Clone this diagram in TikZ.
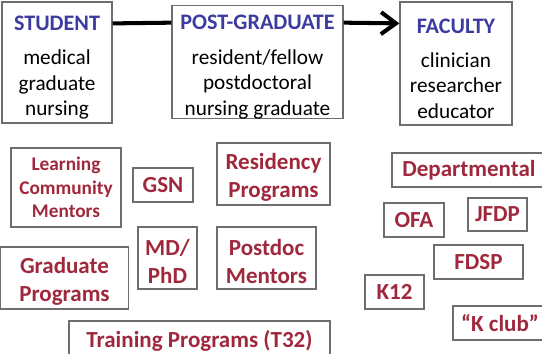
\documentclass[tikz,border=0pt]{standalone}
\usepackage{fontspec}
\setmainfont{Carlito}
\usepackage{xcolor}
\usetikzlibrary{arrows.meta, positioning}

\definecolor{titleblue}{RGB}{60,60,160}
\definecolor{progred}{RGB}{160,40,60}
\definecolor{boxgray}{RGB}{110,110,110}

\tikzset{
  rolebox/.style={draw=boxgray, line width=0.7pt, inner sep=0pt, align=center,
    font=\fontsize{12.1}{14.5}\selectfont},
  progbox/.style={draw=boxgray, line width=0.7pt, inner sep=0pt, align=center,
    text=progred, font=\fontsize{13.1}{15.9}\selectfont\bfseries},
  link/.style={line width=2.3pt}
}
\newcommand{\roletitle}[1]{\rule{0pt}{14pt}\textcolor{titleblue}{\fontsize{12.6}{14.5}\selectfont\bfseries #1}}
\newcommand{\lowerline}{\rule{0pt}{12.8pt}}

\begin{document}
\begin{tikzpicture}[x=0.02cm, y=-0.02cm]
        \useasboundingbox (0,0) rectangle (542,353);

        % Career stages
        \node[rolebox, minimum width=2.2cm, minimum height=2.42cm] (student) at (57,62.5)
          {\roletitle{STUDENT}\\[5pt] medical\\ graduate\\ nursing};
        \node[rolebox, minimum width=3.42cm, minimum height=2.24cm] (postgrad) at (257.5,62)
          {\roletitle{POST-GRADUATE}\\[5pt] resident/fellow\\ postdoctoral\\ nursing graduate};
        \node[rolebox, minimum width=2.24cm, minimum height=2.46cm] (faculty) at (456,63.5)
          {\roletitle{FACULTY}\\[5pt] clinician\\ researcher\\ educator};

        % Stage connectors
        \draw[link] ([yshift=-0.44cm]student.north east) -- ([yshift=-0.36cm]postgrad.north west);
        \draw[link, -{Straight Barb[length=0.3cm, width=0.44cm]}]
          ([yshift=-0.36cm]postgrad.north east) -- ([yshift=-0.44cm]faculty.north west);

        % Student programs
        \node[progbox, minimum width=2.2cm, minimum height=1.58cm,
          font=\fontsize{11}{13.3}\selectfont\bfseries] (lcm) at (66,187.5)
          {Learning\\ Community\\ Mentors};
        \node[progbox, minimum width=1.2cm, minimum height=0.68cm] (gsn) at (163,185) {GSN};
        \node[progbox, minimum width=2.55cm, minimum height=1.24cm] (grad) at (64.5,278)
          {\lowerline Graduate\\ Programs};
        \node[progbox, minimum width=1.18cm, minimum height=1.24cm] (mdphd) at (167.5,258)
          {\lowerline MD/\\ PhD};

        % Post-graduate programs
        \node[progbox, minimum width=2.26cm, minimum height=1.24cm] (residency) at (273.5,174)
          {\lowerline Residency\\ Programs};
        \node[progbox, minimum width=1.98cm, minimum height=1.24cm] (postdoc) at (266.5,258)
          {\lowerline Postdoc\\ Mentors};
        \node[progbox, minimum width=5.22cm, minimum height=0.8cm] (t32) at (199.5,341)
          {Training Programs (T32)};

        % Faculty programs
        \node[progbox, minimum width=3.08cm, minimum height=0.68cm] (dept) at (469,170) {Departmental};
        \node[progbox, minimum width=1.2cm, minimum height=0.68cm] (ofa) at (414,220) {OFA};
        \node[progbox, minimum width=1.18cm, minimum height=0.66cm] (jfdp) at (497.5,214.5) {JFDP};
        \node[progbox, minimum width=1.78cm, minimum height=0.68cm] (fdsp) at (478.5,262) {FDSP};
        \node[progbox, minimum width=1.18cm, minimum height=0.68cm] (k12) at (394.5,292) {K12};
        \node[progbox, minimum width=1.88cm, minimum height=0.68cm] (kclub) at (500,323) {“K club”};
\end{tikzpicture}
\end{document}
